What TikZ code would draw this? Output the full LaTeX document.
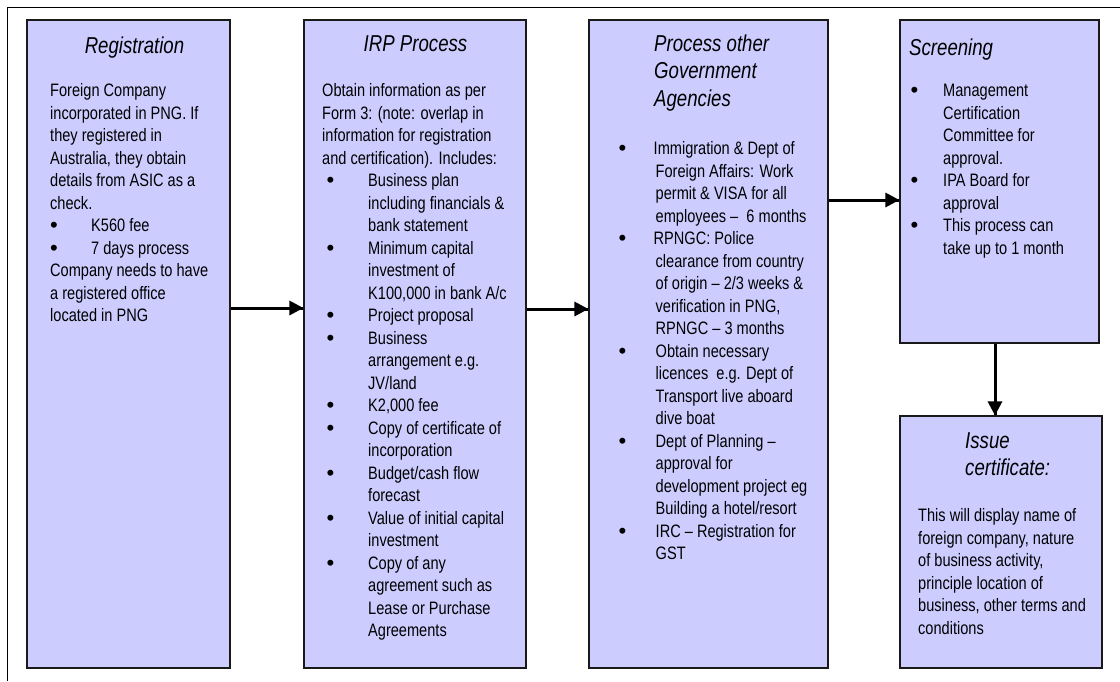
\documentclass[tikz,border=0pt]{standalone}
\usepackage{fontspec}
\setmainfont{Liberation Sans}[FakeStretch=0.81]
\newfontfamily\dotfont{Liberation Sans}
\usepackage{tikz}
\usetikzlibrary{arrows.meta}
\usetikzlibrary{decorations.markings}
\usetikzlibrary{positioning}
\definecolor{lilac}{HTML}{CCCCFF}
\tikzset{->/.style = {line width=3pt,
                      decoration={markings,
                                  mark=at position 1 with {\arrow{Triangle[length=14pt,width=14pt]}}},
                      postaction={decorate}}}
\tikzset{stage/.style = {draw=black!90, line width=1.1pt, fill=lilac, inner sep=0}}
\tikzset{head/.style = {inner sep=0, align=left, font=\fontsize{23}{27.5}\selectfont\itshape}}
\tikzset{body/.style = {anchor=north west, inner sep=0, align=left, font=\fontsize{18}{22.5}\selectfont}}
\newcommand{\up}[1]{\rule{0pt}{#1}}
\newcommand{\bul}[2]{\hspace*{#1}\makebox[#2][l]{\raisebox{-1pt}{\dotfont\fontsize{22}{22}\selectfont\textbullet}}}

\begin{document}
\begin{tikzpicture}[x=1pt, y=-1pt]
      \useasboundingbox (0,0) rectangle (1120,681);
      \draw [line width=1.6pt, black] (7.5,681) -- (7.5,7.5) -- (1120,7.5);
      % stages
      \node [stage, minimum width=203, minimum height=648] (reg) at (128.5,344) {};
      \node [stage, minimum width=222, minimum height=648] (irp) at (415,344) {};
      \node [stage, minimum width=239, minimum height=648] (pga) at (708.5,344) {};
      \node [stage, minimum width=199, minimum height=323] (scr) at (999.5,181.5) {};
      \node [stage, minimum width=202, minimum height=252] (iss) at (1001,542) {};
      % headings
      \node [head, anchor=north] (regh) at (134.5,33) {\up{20pt}Registration};
      \node [head, anchor=north] (irph) at (415.5,31) {\up{20pt}IRP Process};
      \node [head, anchor=north west] (pgah) at (654,31) {\up{20pt}Process other\\Government\\Agencies};
      \node [head, anchor=north west] (scrh) at (909,35) {\up{20pt}Screening};
      \node [head, anchor=north west] (issh) at (965,428) {\up{20pt}Issue\\certificate:};
      % texts
      \node [body] (regt) at (50,80.5) {\up{16pt}Foreign Company\\
        incorporated in PNG. If\\
        they registered in\\
        Australia, they obtain\\
        details from ASIC as a\\
        check.\\
        \bul{0pt}{41pt}K560 fee\\
        \bul{0pt}{41pt}7 days process\\
        Company needs to have\\
        a registered office\\
        located in PNG};
      \node [body] (irpt) at (322,80.5) {\up{16pt}Obtain information as per\\
        Form 3: (note: overlap in\\
        information for registration\\
        and certification). Includes:\\
        \bul{4.5pt}{41.5pt}Business plan\\
        \hspace*{46pt}including financials \&\\
        \hspace*{46pt}bank statement\\
        \bul{4.5pt}{41.5pt}Minimum capital\\
        \hspace*{46pt}investment of\\
        \hspace*{46pt}K100,000 in bank A/c\\
        \bul{4.5pt}{41.5pt}Project proposal\\
        \bul{4.5pt}{41.5pt}Business\\
        \hspace*{46pt}arrangement e.g.\\
        \hspace*{46pt}JV/land\\
        \bul{4.5pt}{41.5pt}K2,000 fee\\
        \bul{4.5pt}{41.5pt}Copy of certificate of\\
        \hspace*{46pt}incorporation\\
        \bul{4.5pt}{41.5pt}Budget/cash flow\\
        \hspace*{46pt}forecast\\
        \bul{4.5pt}{41.5pt}Value of initial capital\\
        \hspace*{46pt}investment\\
        \bul{4.5pt}{41.5pt}Copy of any\\
        \hspace*{46pt}agreement such as\\
        \hspace*{46pt}Lease or Purchase\\
        \hspace*{46pt}Agreements};
      \node [body] (pgat) at (618.5,138.5) {\up{16pt}\bul{0pt}{35pt}Immigration \& Dept of\\
        \hspace*{37pt}Foreign Affairs: Work\\
        \hspace*{37pt}permit \& VISA for all\\
        \hspace*{37pt}employees --\ \ 6 months\\
        \bul{0pt}{35pt}RPNGC: Police\\
        \hspace*{37pt}clearance from country\\
        \hspace*{37pt}of origin -- 2/3 weeks \&\\
        \hspace*{37pt}verification in PNG,\\
        \hspace*{37pt}RPNGC -- 3 months\\
        \bul{0pt}{37pt}Obtain necessary\\
        \hspace*{37pt}licences\ \ e.g. Dept of\\
        \hspace*{37pt}Transport live aboard\\
        \hspace*{37pt}dive boat\\
        \bul{0pt}{37pt}Dept of Planning --\\
        \hspace*{37pt}approval for\\
        \hspace*{37pt}development project eg\\
        \hspace*{37pt}Building a hotel/resort\\
        \bul{0pt}{37pt}IRC -- Registration for\\
        \hspace*{37pt}GST};
      \node [body] (scrt) at (910.5,80.5) {\up{16pt}\bul{0pt}{32.5pt}Management\\
        \hspace*{32.5pt}Certification\\
        \hspace*{32.5pt}Committee for\\
        \hspace*{32.5pt}approval.\\
        \bul{0pt}{32.5pt}IPA Board for\\
        \hspace*{32.5pt}approval\\
        \bul{0pt}{32.5pt}This process can\\
        \hspace*{32.5pt}take up to 1 month};
      \node [body] (isst) at (918,505.5) {\up{16pt}This will display name of\\
        foreign company, nature\\
        of business activity,\\
        principle location of\\
        business, other terms and\\
        conditions};
      % flow
      \draw [->] (reg.east |- 0,308) -- (irp.west |- 0,308);
      \draw [->] (irp.east |- 0,309) -- (pga.west |- 0,309);
      \draw [->] (pga.east |- 0,200) -- (scr.west |- 0,200);
      \draw [->] (scr.south -| 995,0) -- (iss.north -| 995,0);
\end{tikzpicture}
\end{document}
